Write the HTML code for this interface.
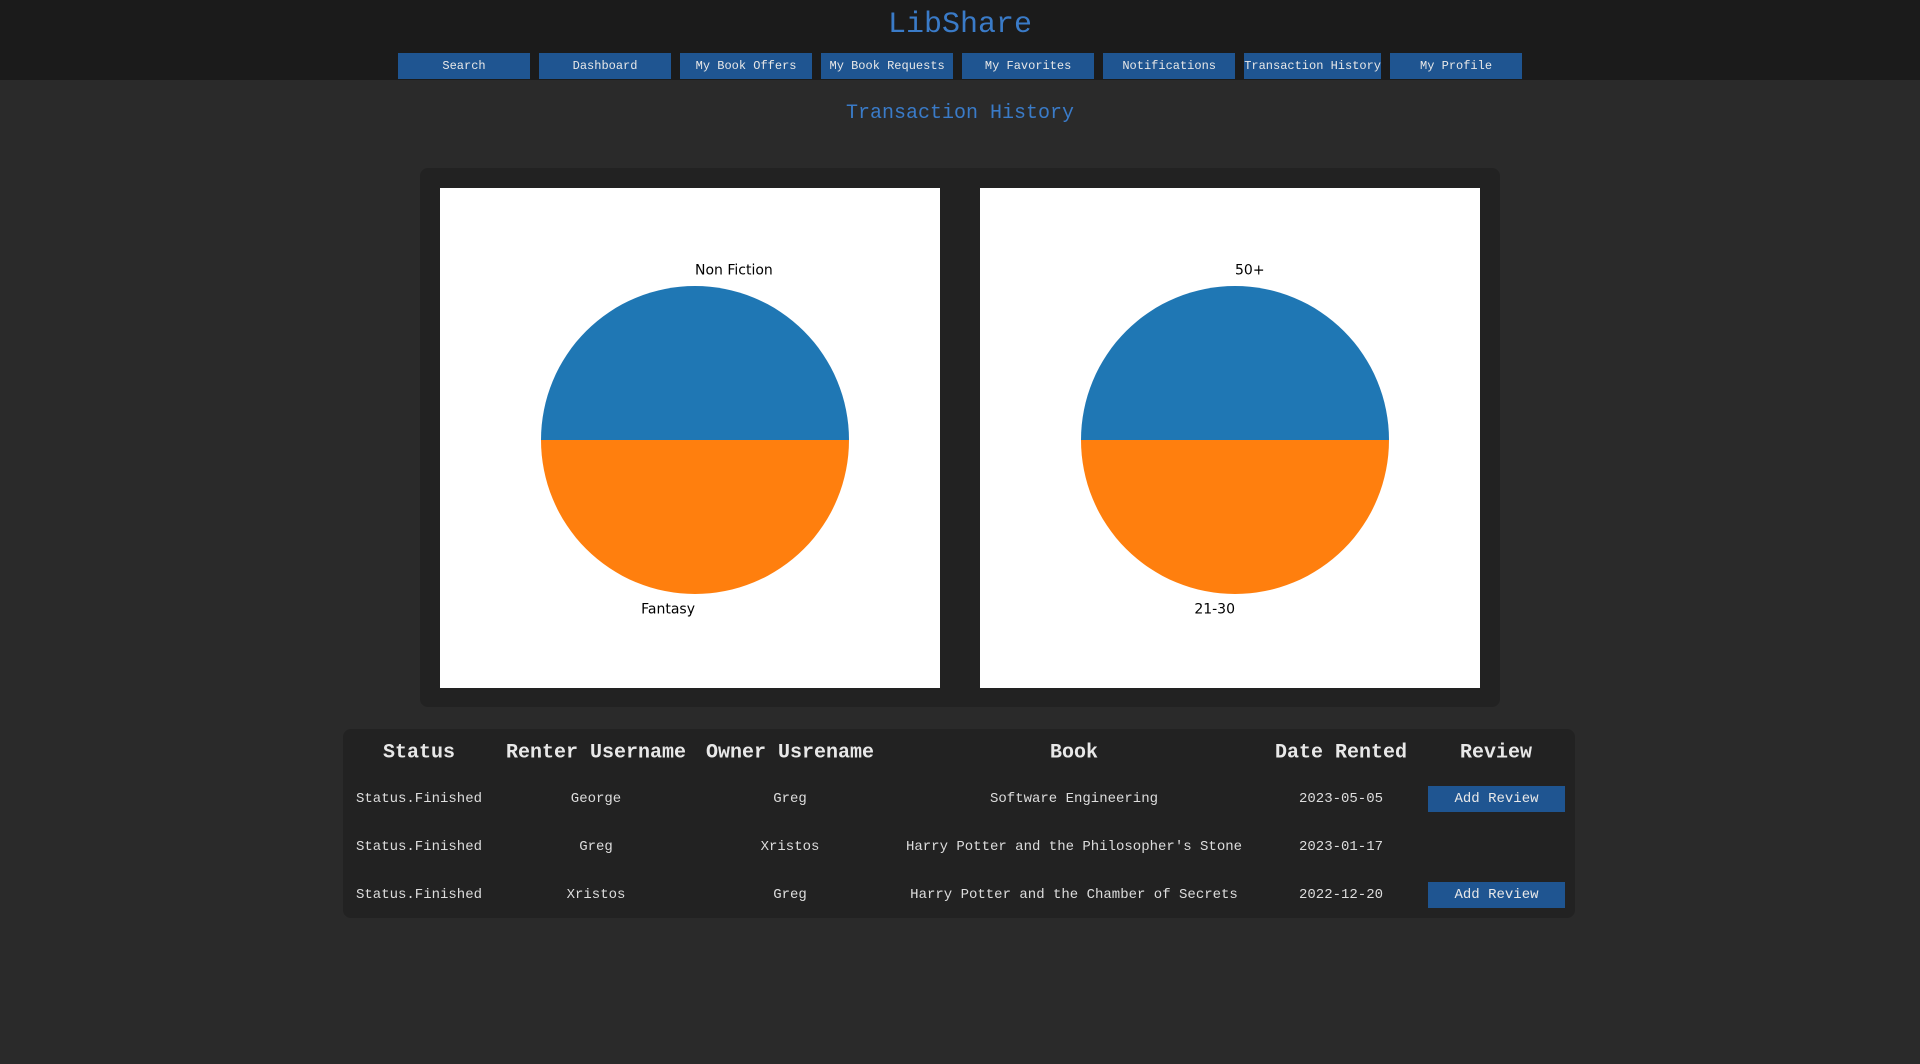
<!DOCTYPE html>
<html><head><meta charset="utf-8"><style>
body{margin:0;width:1920px;height:1064px;background:#2a2a2a;font-family:"Liberation Mono",monospace;position:relative;overflow:hidden}
#hdr{position:absolute;left:0;top:0;width:1920px;height:80px;background:#1b1b1b}
#logo{position:absolute;left:0;width:1920px;top:8px;text-align:center;color:#3a7bc8;font-size:30px}
#nav{position:absolute;left:398px;top:53px;width:1124px;height:26px;display:flex;gap:9px}
#nav div{flex:1;background:#1f5591;color:#e8e8e8;font-size:12px;text-align:center;line-height:27px;white-space:nowrap}
#title{position:absolute;left:0;width:1920px;top:102px;text-align:center;color:#3a7bc8;font-size:20px}
#charts{position:absolute;left:420px;top:168px;width:1080px;height:539px;background:#222;border-radius:8px}
.chart{position:absolute;top:20px;width:500px;height:500px;background:#fff}
#tbl{position:absolute;left:343px;top:729px;width:1232px;height:189px;background:#222;border-radius:8px;color:#ddd}
.c{position:absolute;transform:translate(-50%,-50%);white-space:nowrap}
.h{font-size:20px;font-weight:bold;color:#e8e8e8}
.r{font-size:14px}
.btn{position:absolute;left:1085px;width:137px;height:26px;background:#1f5591;color:#e8e8e8;font-size:14px;text-align:center;line-height:27px}
</style></head><body>
<div id="hdr">
<div id="logo">LibShare</div>
<div id="nav">
<div>Search</div>
<div>Dashboard</div>
<div>My Book Offers</div>
<div>My Book Requests</div>
<div>My Favorites</div>
<div>Notifications</div>
<div>Transaction History</div>
<div>My Profile</div>
</div></div>
<div id="title">Transaction History</div>
<div id="charts">
<svg class="chart" style="left:20px" id="pie1" viewBox="0 0 500 500"></svg>
<svg class="chart" style="left:560px" id="pie2" viewBox="0 0 500 500"></svg>
</div>
<div id="tbl">
<div class="c h" style="left:76px;top:24px">Status</div>
<div class="c h" style="left:253px;top:24px">Renter Username</div>
<div class="c h" style="left:447px;top:24px">Owner Usrename</div>
<div class="c h" style="left:731px;top:24px">Book</div>
<div class="c h" style="left:998px;top:24px">Date Rented</div>
<div class="c h" style="left:1153px;top:24px">Review</div>

<div class="c r" style="left:76px;top:70px">Status.Finished</div>
<div class="c r" style="left:253px;top:70px">George</div>
<div class="c r" style="left:447px;top:70px">Greg</div>
<div class="c r" style="left:731px;top:70px">Software Engineering</div>
<div class="c r" style="left:998px;top:70px">2023-05-05</div>
<div class="btn" style="top:57px">Add Review</div>

<div class="c r" style="left:76px;top:118px">Status.Finished</div>
<div class="c r" style="left:253px;top:118px">Greg</div>
<div class="c r" style="left:447px;top:118px">Xristos</div>
<div class="c r" style="left:731px;top:118px">Harry Potter and the Philosopher's Stone</div>
<div class="c r" style="left:998px;top:118px">2023-01-17</div>

<div class="c r" style="left:76px;top:166px">Status.Finished</div>
<div class="c r" style="left:253px;top:166px">Xristos</div>
<div class="c r" style="left:447px;top:166px">Greg</div>
<div class="c r" style="left:731px;top:166px">Harry Potter and the Chamber of Secrets</div>
<div class="c r" style="left:998px;top:166px">2022-12-20</div>
<div class="btn" style="top:153px">Add Review</div>
</div>
<script>
const genreCategories = ["Non Fiction", "Fantasy"];
const genreValues = [1, 1];
const ageCategories = ["50+", "21-30"];
const ageValues = [1, 1];
const colors = ["#1f77b4", "#ff7f0e"];
const NS = "http://www.w3.org/2000/svg";
function drawPie(svg, cats, vals) {
  const cx = 255, cy = 252, r = 154;
  const total = vals.reduce((a, b) => a + b, 0);
  let a0 = 0;
  vals.forEach((v, i) => {
    const a1 = a0 + v / total * 2 * Math.PI;
    const p = (a) => [cx + r * Math.cos(a), cy - r * Math.sin(a)];
    const [x0, y0] = p(a0), [x1, y1] = p(a1);
    const large = (a1 - a0) > Math.PI ? 1 : 0;
    const path = document.createElementNS(NS, "path");
    path.setAttribute("d", (v >= total) ?
      `M${cx - r},${cy}A${r},${r} 0 1 0 ${cx + r},${cy}A${r},${r} 0 1 0 ${cx - r},${cy}Z` :
      `M${cx},${cy}L${x0},${y0}A${r},${r} 0 ${large} 0 ${x1},${y1}Z`);
    path.setAttribute("fill", colors[i % colors.length]);
    
    
    svg.appendChild(path);
    const am = (a0 + a1) / 2;
    const lx = cx + 1.1 * r * Math.cos(am), ly = cy - 1.1 * r * Math.sin(am);
    const t = document.createElementNS(NS, "text");
    t.setAttribute("x", lx);
    t.setAttribute("y", ly);
    t.setAttribute("dominant-baseline", "central");
    t.setAttribute("text-anchor", Math.cos(am) >= 0 ? "start" : "end");
    t.setAttribute("font-family", "DejaVu Sans, sans-serif");
    t.setAttribute("font-size", "14");
    t.textContent = cats[i];
    
    
    svg.appendChild(t);
    a0 = a1;
  });
}
drawPie(document.getElementById("pie1"), genreCategories, genreValues);
drawPie(document.getElementById("pie2"), ageCategories, ageValues);
</script>
</body></html>
